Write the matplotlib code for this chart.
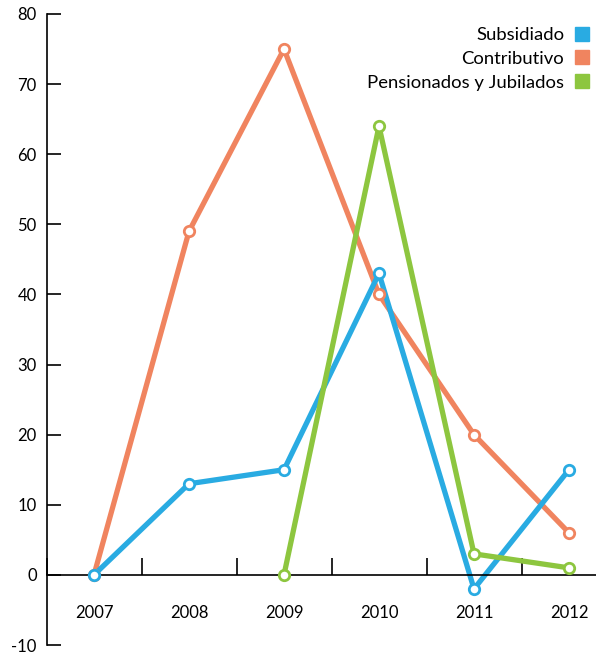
import matplotlib.pyplot as plt
from matplotlib.lines import Line2D
import numpy as np

years = ['2007', '2008', '2009', '2010', '2011', '2012']
subsidiado = [0, 13, 15, 43, -2, 15]
contributivo = [0, 49, 75, 40, 20, 6]
pensionados = [np.nan, np.nan, 0, 64, 3, 1]

series_names = ['Subsidiado', 'Contributivo', 'Pensionados y Jubilados']
colors = ['#29abe2', '#f0845f', '#8dc63f']

plt.rcParams['font.family'] = ['Lato', 'DejaVu Sans']
plt.rcParams['axes.unicode_minus'] = False

fig = plt.figure(figsize=(5.96, 6.55), dpi=100)
ax = fig.add_axes([46.5 / 596, 10 / 655, 570 / 596, 631 / 655])

x = np.arange(len(years))
for vals, c in [(contributivo, colors[1]), (subsidiado, colors[0]), (pensionados, colors[2])]:
  ax.plot(x, vals, color=c, linewidth=3.8, solid_capstyle='butt', zorder=2)
for vals, c in [(contributivo, colors[1]), (subsidiado, colors[0]), (pensionados, colors[2])]:
  ax.plot(x, vals, linestyle='none', marker='o', markersize=7.5,
    markerfacecolor='white', markeredgecolor=c, markeredgewidth=2, zorder=3)

ax.set_xlim(-0.5, 5.5)
ax.set_ylim(-10, 80)
ax.set_yticks(range(-10, 81, 10))

ax.spines['top'].set_visible(False)
ax.spines['right'].set_visible(False)
ax.spines['bottom'].set_position(('data', 0))
for s in ['left', 'bottom']:
  ax.spines[s].set_linewidth(1.2)

ax.set_xticks(x)
ax.set_xticklabels(years)
ax.set_xticks(np.arange(-0.5, 5.6, 1), minor=True)
ax.tick_params(axis='x', which='major', length=0, pad=22, labelsize=12)
ax.tick_params(axis='x', which='minor', direction='in', length=12, width=1.2)
ax.tick_params(axis='y', direction='in', length=10, width=1.2, pad=7, labelsize=12)

handles = [Line2D([], [], linestyle='none', marker='s', markersize=9.5,
  markerfacecolor=c, markeredgecolor=c) for c in colors]
fig.legend(handles, series_names, loc='upper right', bbox_to_anchor=(591 / 596, 1 - 27 / 655),
  frameon=False, markerfirst=False, fontsize=13.3, handletextpad=0.45, labelspacing=0.42,
  handlelength=1.0, borderpad=0, borderaxespad=0)

fig.savefig('out.png', dpi=100)
